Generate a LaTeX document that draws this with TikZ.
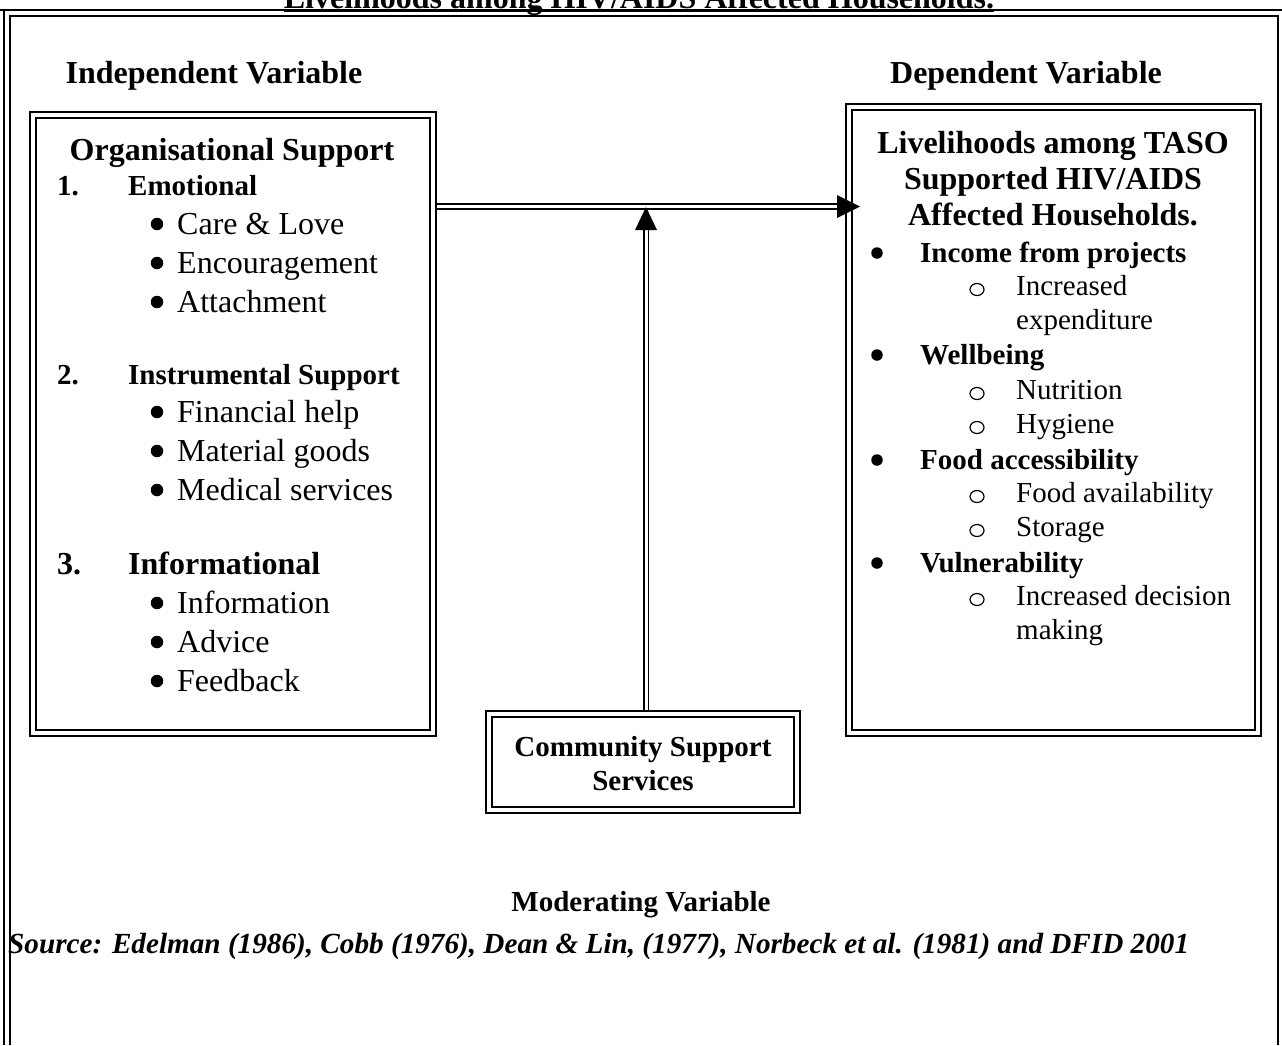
\documentclass[tikz,border=0pt]{standalone}
\usepackage{fontspec}
\setmainfont{Liberation Serif}
\usetikzlibrary{backgrounds,shapes.geometric}
\begin{document}
\begin{tikzpicture}[x=1pt,y=-1pt,
  box/.style={draw, double, line width=2.2pt, double distance=3.3pt, inner sep=0pt, outer sep=0pt, anchor=north west, rectangle},
  t32/.style={inner sep=0pt, anchor=base west, font=\fontsize{32}{38}\selectfont},
  b32/.style={inner sep=0pt, anchor=base west, font=\fontsize{32}{38}\selectfont\bfseries},
  t29/.style={inner sep=0pt, anchor=base west, font=\fontsize{29}{34}\selectfont},
  b29/.style={inner sep=0pt, anchor=base west, font=\fontsize{29}{34}\selectfont\bfseries},
  circ/.style={ellipse, draw, line width=1.2pt, inner sep=0pt, minimum width=14pt, minimum height=12pt},
  bul/.style={circle, fill, inner sep=0pt, minimum size=12.5pt},
  bulr/.style={circle, fill, inner sep=0pt, minimum size=11.5pt},
  conn/.style={draw, double, line width=1.8pt, double distance=3pt},
  frameouter/.style={line width=2.5pt},
  frameinner/.style={line width=1.8pt}
]
\useasboundingbox (0,0) rectangle (1282,1045);

% outer frame
\draw[frameouter] (0,10) -- (1282,10);
\draw[frameouter] (4,10) -- (4,1045);
\draw[frameinner] (10,1045) -- (10,16) -- (1278,16) -- (1278,1045);

% title
\node[b32, anchor=base] (title) at (639,8) {Livelihoods among HIV/AIDS Affected Households.};
\draw[line width=1.5pt] ([yshift=-3pt]title.base west) -- ([yshift=-3pt]title.base east);

% headings
\node[b32, anchor=base] (indep) at (214,83.5) {Independent Variable};
\node[b32, anchor=base] (dep) at (1026,83.5) {Dependent Variable};

% boxes
\node[box, minimum width=400pt, minimum height=618pt] (org) at (33,115) {};
\node[box, minimum width=409pt, minimum height=626pt] (liv) at (849,107) {};
\node[box, minimum width=308pt, minimum height=96pt] (com) at (489,714) {};

% connectors
\coordinate (htip) at (860,206.5);
\coordinate (vtip) at (646,207);
\begin{scope}[on background layer]
\draw[conn] (org.east |- htip) -- ([xshift=-23pt]htip);
\draw[conn] ([yshift=3pt]vtip |- com.north) -- ([yshift=-23pt]vtip);
\end{scope}
\fill (htip) -- ++(-23,-11.5) -- ++(0,23) -- cycle;
\fill (vtip) -- ++(-11,23) -- ++(22,0) -- cycle;

% left box text
\node[b32, anchor=base] (orgt) at (232,160) {Organisational Support};
\node[b29] (n1) at (57,195.5) {1.};
\node[b29] (h1) at (128,195.5) {Emotional};
\node[bul] (b11) at (157,224) {};
\node[t32] (i11) at (177,234.5) {Care \& Love};
\node[bul] (b12) at (157,263) {};
\node[t32] (i12) at (177,273.5) {Encouragement};
\node[bul] (b13) at (157,302) {};
\node[t32] (i13) at (177,312.5) {Attachment};

\node[b29] (n2) at (57,384.5) {2.};
\node[b29] (h2) at (128,384.5) {Instrumental Support};
\node[bul] (b21) at (157,412) {};
\node[t32] (i21) at (177,422.5) {Financial help};
\node[bul] (b22) at (157,451) {};
\node[t32] (i22) at (177,461.5) {Material goods};
\node[bul] (b23) at (157,490) {};
\node[t32] (i23) at (177,500.5) {Medical services};

\node[b32] (n3) at (57,574.5) {3.};
\node[b32] (h3) at (128,574.5) {Informational};
\node[bul] (b31) at (157,603) {};
\node[t32] (i31) at (177,613.5) {Information};
\node[bul] (b32n) at (157,642) {};
\node[t32] (i32) at (177,652.5) {Advice};
\node[bul] (b33) at (157,681) {};
\node[t32] (i33) at (177,691.5) {Feedback};

% right box text
\node[b32, anchor=base] (livt1) at (1053,153) {Livelihoods among TASO};
\node[b32, anchor=base] (livt2) at (1053,189) {Supported HIV/AIDS};
\node[b32, anchor=base] (livt3) at (1053,225) {Affected Households.};

\node[bulr] (rb1) at (877,253) {};
\node[b29] (rh1) at (920,262.5) {Income from projects};
\node[circ] (rc11) at (977,289.5) {};
\node[t29] (ri11) at (1016,295.5) {Increased};
\node[t29] (ri11b) at (1016,329.5) {expenditure};

\node[bulr] (rb2) at (877,355) {};
\node[b29] (rh2) at (920,364.5) {Wellbeing};
\node[circ] (rc21) at (977,393.5) {};
\node[t29] (ri21) at (1016,399.5) {Nutrition};
\node[circ] (rc22) at (977,427.5) {};
\node[t29] (ri22) at (1016,433.5) {Hygiene};

\node[bulr] (rb3) at (877,460) {};
\node[b29] (rh3) at (920,469.5) {Food accessibility};
\node[circ] (rc31) at (977,496.5) {};
\node[t29] (ri31) at (1016,502.5) {Food availability};
\node[circ] (rc32) at (977,530.5) {};
\node[t29] (ri32) at (1016,536.5) {Storage};

\node[bulr] (rb4) at (877,563) {};
\node[b29] (rh4) at (920,572.5) {Vulnerability};
\node[circ] (rc41) at (977,599.5) {};
\node[t29] (ri41) at (1016,605.5) {Increased decision};
\node[t29] (ri41b) at (1016,639.5) {making};

% community box text
\node[b29, anchor=base] (comt1) at (643,756.5) {Community Support};
\node[b29, anchor=base] (comt2) at (643,790.5) {Services};

% bottom texts
\node[b29, anchor=base] (mod) at (641,911.5) {Moderating Variable};
\node[b29, anchor=base west, font=\fontsize{29.2}{34}\selectfont\bfseries\itshape] (src) at (8,953.5) {Source: Edelman (1986), Cobb (1976), Dean \& Lin, (1977), Norbeck et al. (1981) and DFID 2001};
\end{tikzpicture}
\end{document}
